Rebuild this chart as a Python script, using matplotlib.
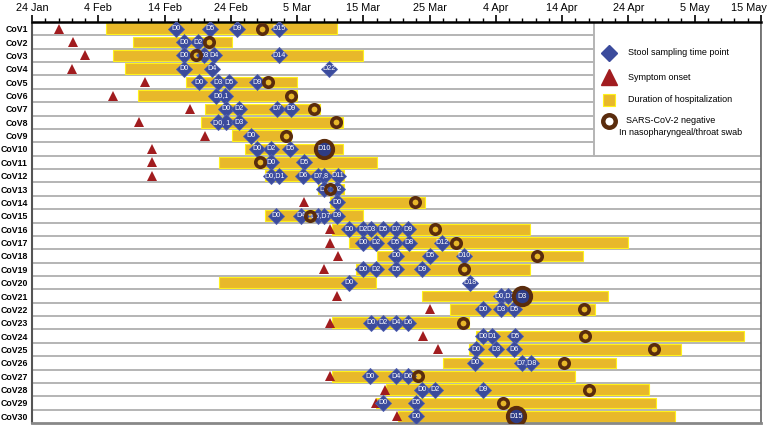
import numpy as np
import matplotlib.pyplot as plt
from matplotlib.patches import Rectangle
from matplotlib.transforms import ScaledTranslation

plt.rcParams['font.family'] = ['Liberation Sans', 'DejaVu Sans']

# 환자 / 날짜 (x축: 1월 24일부터의 일수)
patients = ['CoV%d' % i for i in range(1, 31)]
tick_labels = ['24 Jan', '4 Feb', '14 Feb', '24 Feb', '5 Mar', '15 Mar',
               '25 Mar', '4 Apr', '14 Apr', '24 Apr', '5 May', '15 May']

onset = [4.1, 6.2, 8.0, 6.0, 17.0, 12.2, 23.9, 16.1, 26.1, 18.1,
         18.1, 18.1, None, 41.0, None, 45.0, 45.0, 46.1, 44.0, None,
         46.0, 60.0, 45.0, 59.0, 61.2, None, 45.0, 53.2, 51.9, 55.1]

admit = [11.1, 15.2, 12.2, 14.1, 23.3, 16.0, 26.1, 25.5, 30.2, 32.2,
         28.2, 35.1, 43.1, 45.0, 35.1, 45.3, 47.9, 52.1, 48.9, 28.2,
         58.8, 63.0, 45.2, 67.0, 66.0, 62.0, 45.2, 53.4, 51.9, 55.2]

discharge = [46.0, 30.2, 50.0, 26.8, 40.0, 40.0, 43.4, 47.0, 39.1, 47.0,
             52.0, 47.1, 47.1, 59.3, 49.9, 75.1, 89.9, 83.2, 75.1, 51.9,
             86.9, 85.0, 66.0, 107.4, 98.0, 88.1, 82.0, 93.1, 94.1, 97.0]

# 음성 전환 시점 (라벨이 있으면 큰 원으로 표시)
negative = [34.7, 26.7, 24.7, None, 35.6, 39.1, 42.5, 45.9, 38.4, 44.0,
            34.4, None, 45.0, 57.8, 42.0, 60.8, 64.0, 76.2, 65.2, None,
            74.0, 83.3, 65.0, 83.5, 93.9, 80.3, 58.3, 84.0, 71.1, 73.0]
neg_label = [''] * 9 + ['D10'] + [''] * 10 + ['D3'] + [''] * 8 + ['D15']

# 대변 채취 시점 (튜플 = 겹친 두 개의 마커)
sample_days = [
    [21.8, 26.9, 30.9, 37.2],
    [22.9, 25.0],
    [22.9, 25.9, 27.4, 37.2],
    [22.9, 27.1, 44.8],
    [25.2, 28.0, 29.8, 34.0],
    [(27.8, 29.1)],
    [29.2, 31.2, 37.0, 39.1],
    [(28.0, 29.2), 31.2],
    [33.0],
    [33.9, 36.0, 39.0],
    [36.1, 41.0],
    [(36.1, 37.2), 40.9, (43.1, 44.1), 46.1],
    [44.0, 46.0],
    [46.0],
    [36.8, 40.6, (43.1, 44.1), 46.0],
    [47.9, 49.9, 51.1, 52.9, 54.9, 56.8],
    [50.0, 51.9, 54.8, 56.9, 61.8],
    [54.9, 60.0, 65.2],
    [50.0, 51.9, 54.9, 58.9],
    [47.9, 66.1],
    [(70.7, 71.8)],
    [68.0, 70.8, 72.7],
    [51.1, 53.0, 54.9, 56.8],
    [68.0, 69.4, 72.9],
    [67.0, 70.0, 72.8],
    [66.9, (74.0, 75.3)],
    [51.0, 54.9, 56.8],
    [58.8, 60.8, 68.0],
    [52.9, 58.0],
    [58.0],
]
sample_labels = [
    ['D0', 'D5', 'D9', 'D15'],
    ['D0', 'D2'],
    ['D0', 'D3', 'D4', 'D14'],
    ['D0', 'D4', 'D22'],
    ['D0', 'D3', 'D5', 'D9'],
    ['D0,1'],
    ['D0', 'D2', 'D7', 'D9'],
    ['D0, 1', 'D3'],
    ['D0'],
    ['D0', 'D2', 'D5'],
    ['D0', 'D5'],
    ['D0,D1', 'D6', 'D7,8', 'D11'],
    ['D0', 'D2'],
    ['D0'],
    ['D0', 'D4', 'D6,D7', 'D9'],
    ['D0', 'D2', 'D3', 'D5', 'D7', 'D9'],
    ['D0', 'D2', 'D5', 'D8', 'D12'],
    ['D0', 'D5', 'D10'],
    ['D0', 'D2', 'D5', 'D9'],
    ['D0', 'D18'],
    ['D0,D1'],
    ['D0', 'D3', 'D5'],
    ['D0', 'D2', 'D4', 'D6'],
    ['D0', 'D1', 'D5'],
    ['D0', 'D3', 'D6'],
    ['D0', 'D7,D8'],
    ['D0', 'D4', 'D6'],
    ['D0', 'D2', 'D9'],
    ['D0', 'D5'],
    ['D0'],
]

# 색
c_bar = '#E8B82A'
c_bar_edge = '#FFF21A'
c_dia = '#3B4B9C'
c_tri = '#A11C1F'
c_brown = '#5A2C0D'
c_line = '#B4B4B4'

fig = plt.figure(figsize=(7.67, 4.28), dpi=100)
ax = fig.add_axes([32 / 767, 5 / 428, 729 / 767, 401 / 428])
ax.set_xlim(0, 110)
ax.set_ylim(30.5, 0.5)

rows = np.arange(1, 31)

for y in np.arange(1.5, 30.5, 1):
    ax.axhline(y, color=c_line, lw=1.4, zorder=1)

# 입원 기간
widths = np.array(discharge) - np.array(admit)
ax.barh(rows, widths, left=admit, height=0.8, color=c_bar,
        edgecolor=c_bar_edge, linewidth=0.8, zorder=2)

# 증상 시작
for r, d in zip(rows, onset):
    if d is not None:
        ax.plot(d, r, '^', color=c_tri, ms=7.8, mew=0, zorder=3)

# 대변 채취
for r, days, labs in zip(rows, sample_days, sample_labels):
    for d, lab in zip(days, labs):
        pos = np.atleast_1d(d)
        ax.plot(pos, [r] * len(pos), 'D', color=c_dia, ms=8.2, mew=0.6,
                mec='#4E5FB0', zorder=4)
        ax.text(np.mean(pos), r, lab, color='white', fontsize=5.1,
                ha='center', va='center', zorder=4.5)

# 음성 전환
for r, d, lab in zip(rows, negative, neg_label):
    if d is None:
        continue
    if lab:
        ax.plot(d, r, 'o', ms=12.5, mfc='#2E3C85', mec=c_brown, mew=2.8, zorder=5)
        ax.text(d, r, lab, color='white', fontsize=5.2, ha='center',
                va='center', zorder=6)
    else:
        ax.plot(d, r, 'o', ms=6.8, mfc='none', mec=c_brown, mew=2.6, zorder=5)

# 범례
ax.add_patch(Rectangle((84.8, 0.5), 25.2, 10, facecolor='white',
                       edgecolor=c_line, lw=1.4, zorder=2.5))
ax.plot(87.0, 2.8, 'D', color=c_dia, ms=8.5, zorder=6)
ax.plot(87.0, 4.65, '^', color=c_tri, ms=11, zorder=6)
ax.plot(87.0, 6.3, 's', ms=9, mfc=c_bar, mec=c_bar_edge, mew=0.8, zorder=6)
ax.plot(87.0, 7.9, 'o', ms=9, mfc='white', mec=c_brown, mew=3.2, zorder=6)
fs = 6.5
ax.text(89.9, 2.8, 'Stool sampling time point', fontsize=fs, va='center', zorder=6)
ax.text(89.9, 4.65, 'Symptom onset', fontsize=fs, va='center', zorder=6)
ax.text(90.0, 6.3, 'Duration of hospitalization', fontsize=fs, va='center', zorder=6)
ax.text(96.4, 7.85, 'SARS-CoV-2 negative', fontsize=fs, ha='center',
        va='center', zorder=6)
ax.text(97.9, 8.75, 'In nasopharyngeal/throat swab', fontsize=fs, ha='center',
        va='center', zorder=6)

# 축
ax.xaxis.tick_top()
ax.set_xticks(np.arange(0, 111, 10))
ax.set_xticklabels(tick_labels)
ax.set_xticks(np.arange(0, 111, 2), minor=True)
ax.tick_params(axis='x', which='major', length=5, width=1.2, labelsize=7.8, pad=1.5)
ax.tick_params(axis='x', which='minor', length=3, width=1.0)
last = ax.get_xticklabels()[-1]
last.set_horizontalalignment('right')
last.set_transform(last.get_transform() + ScaledTranslation(6 / 100, 0, fig.dpi_scale_trans))
ax.set_yticks(rows)
ax.set_yticklabels(patients, fontweight='bold', fontsize=6.3)
ax.tick_params(axis='y', length=0, pad=3)

ax.spines['top'].set_linewidth(1.8)
ax.spines['top'].set_color('black')
ax.spines['left'].set_color('#555555')
ax.spines['left'].set_linewidth(1.5)
ax.spines['right'].set_color('#666666')
ax.spines['right'].set_linewidth(1.2)
ax.spines['bottom'].set_color('#888888')
ax.spines['bottom'].set_linewidth(2)

fig.savefig('out.png', dpi=100)
